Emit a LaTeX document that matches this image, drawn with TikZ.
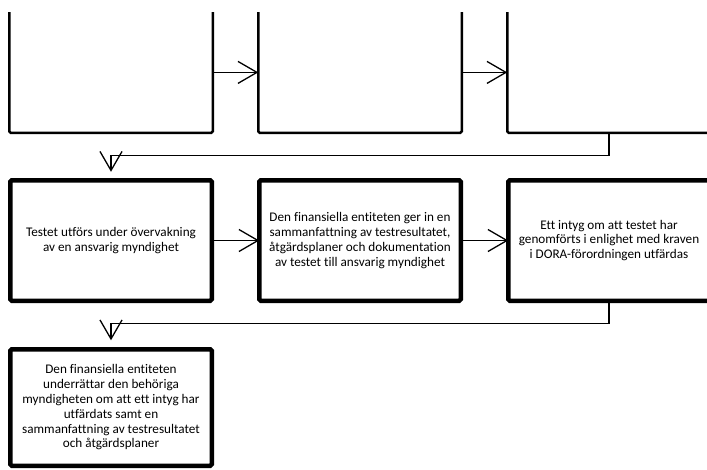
\documentclass[tikz,border=0pt]{standalone}
\usepackage{fontspec}
\setmainfont[Ligatures=NoCommon]{Carlito}
\usetikzlibrary{arrows.meta}
\begin{document}
\begin{tikzpicture}[x=1pt,y=-1pt,
  topbox/.style={minimum width=203.5pt,minimum height=120.75pt,inner sep=0pt,outer sep=0pt},
  openbox/.style={line width=2.5pt,rounded corners=1.5pt},
  midbox/.style={draw,line width=4.5pt,rounded corners=1.5pt,minimum width=201.5pt,minimum height=120.5pt,
    inner sep=0pt,outer sep=0pt,align=center,font=\fontsize{13.2}{14.8}\selectfont},
  arr/.style={line width=1.3pt,-{Straight Barb[length=19pt,width=22pt,line width=1.3pt]}}]
\useasboundingbox (0,0) rectangle (707,469);
\clip (0,0) rectangle (707,469);
% top row (open at the top)
\node[topbox] (t1) at (111,72.4) {};
\node[topbox] (t2) at (360,72.4) {};
\node[topbox] (t3) at (609,72.4) {};
\foreach \n in {t1,t2,t3}
  \draw[openbox] (\n.north west) -- (\n.south west) -- (\n.south east) -- (\n.north east);
% middle row
\node[midbox] (m1) at (111,240.5) {Testet utförs under övervakning\\av en ansvarig myndighet};
\node[midbox] (m2) at (360,240.5) {Den finansiella entiteten ger in en\\sammanfattning av testresultatet,\\åtgärdsplaner och dokumentation\\av testet till ansvarig myndighet};
\node[midbox] (m3) at (609,240.5) {Ett intyg om att testet har\\genomförts i enlighet med kraven\\i DORA-förordningen utfärdas};
% bottom
\node[midbox,minimum height=116.5pt] (b4) at (111,407.5) {Den finansiella entiteten\\underrättar den behöriga\\myndigheten om att ett intyg har\\utfärdats samt en\\sammanfattning av testresultatet\\och åtgärdsplaner};
% connectors
\draw[arr] (t1.east) -- (t2.west);
\draw[arr] (t2.east) -- (t3.west);
\draw[arr] (m1.east) -- (m2.west);
\draw[arr] (m2.east) -- (m3.west);
\draw[arr,shorten >=8.5pt] (t3.south) -- (t3.south |- 0,155.3) -| (m1.north);
\draw[arr,shorten >=9pt] (m3.south) -- (m3.south |- 0,323.3) -| (b4.north);
\end{tikzpicture}
\end{document}
